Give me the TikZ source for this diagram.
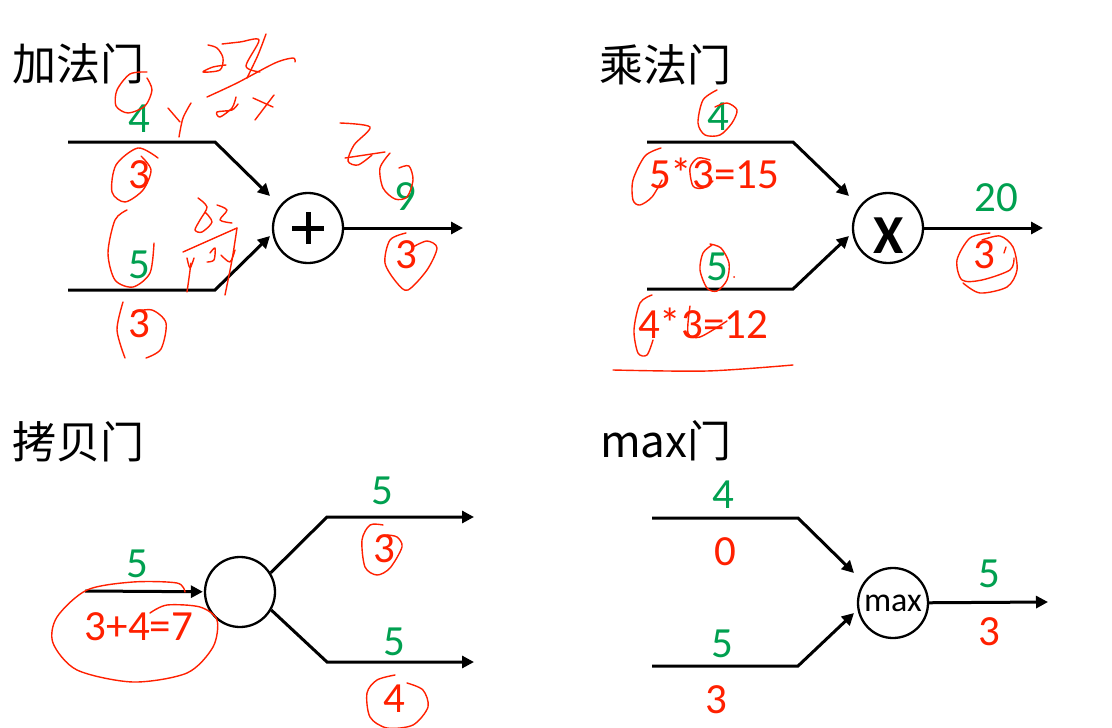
\documentclass[tikz,border=0pt]{standalone}
\usepackage{fontspec}
\setmainfont{Carlito}
\newfontfamily\cjk{Noto Sans CJK SC}
\usetikzlibrary{arrows.meta}
\definecolor{grn}{HTML}{00A050}
\definecolor{rd}{HTML}{FF2000}
\tikzset{
  wire/.style={line width=3pt, line join=miter, -{Triangle[length=12pt,width=12pt]}},
  gate/.style={circle, draw, line width=2.3pt, minimum size=70pt, inner sep=0pt},
  title/.style={anchor=base west, inner sep=0pt, font=\cjk\fontsize{44}{44}\selectfont},
  gval/.style={anchor=base, inner sep=0pt, text=grn, font=\fontsize{43}{43}\selectfont},
  rval/.style={anchor=base, inner sep=0pt, text=rd, font=\fontsize{43}{43}\selectfont},
  hand/.style={draw=rd, line width=1.4pt, line cap=round, line join=round},
}
\begin{document}
\begin{tikzpicture}[x=1pt,y=-1pt]
\useasboundingbox[fill=white] (0,0) rectangle (1112,728);

% ---------- titles ----------
\node[title] (t1) at (12,80) {加法门};
\node[title] (t2) at (599,81) {乘法门};
\node[title] (t3) at (12,458) {拷贝门};
\node[title] (t4) at (600,457) {max门};

% ---------- addition gate ----------
\node[gate] (ga) at (308,228) {};
\draw[line width=5pt] ([xshift=-16pt]ga.center) -- ([xshift=16pt]ga.center);
\draw[line width=5pt] ([yshift=-16pt]ga.center) -- ([yshift=16pt]ga.center);
\coordinate (a1s) at (68,142); \coordinate (a1b) at (215,142); \coordinate (a1e) at (270,196);
\coordinate (a2s) at (68,290); \coordinate (a2b) at (215,290); \coordinate (a2e) at (270,236);
\coordinate (aout) at (463,228);
\draw[wire] (a1s) -- (a1b) -- (a1e);
\draw[wire] (a2s) -- (a2b) -- (a2e);
\draw[wire] (ga) -- (aout);
\node[gval] (la1) at (139,132) {4};
\node[rval] (la2) at (139,188) {3};
\node[gval] (la3) at (139,278) {5};
\node[rval] (la4) at (139,337) {3};
\node[gval] (la5) at (405,210) {9};
\node[rval] (la6) at (406,268) {3};

% ---------- multiplication gate ----------
\node[gate] (gm) at (888,228) {};
\node[anchor=base, inner sep=0pt, font=\bfseries\fontsize{55}{55}\selectfont] (gmx) at (889,253) {X};
\coordinate (m1s) at (647,142); \coordinate (m1b) at (793,142); \coordinate (m1e) at (849,196);
\coordinate (m2s) at (647,289); \coordinate (m2b) at (793,289); \coordinate (m2e) at (849,236);
\coordinate (mout) at (1043,228);
\draw[wire] (m1s) -- (m1b) -- (m1e);
\draw[wire] (m2s) -- (m2b) -- (m2e);
\draw[wire] (gm) -- (mout);
\node[gval] (lm1) at (718,130) {4};
\node[rval] (lm2) at (714,188) {5*3=15};
\node[gval] (lm3) at (717,280) {5};
\node[rval] (lm4) at (703,338) {4*3=12};
\node[gval] (lm5) at (996,211) {20};
\node[rval] (lm6) at (984,268) {3};

% ---------- copy gate ----------
\node[gate] (gc) at (240,592) {};
\coordinate (cin) at (85,591);
\coordinate (c1b) at (327,517); \coordinate (c1e) at (474,517);
\coordinate (c2b) at (327,662); \coordinate (c2e) at (474,662);
\draw[wire, shorten >=1pt] (cin) -- (gc);
\draw[wire] (gc.32) -- (c1b) -- (c1e);
\draw[wire] (gc.-30) -- (c2b) -- (c2e);
\node[gval] (lc1) at (137,577) {5};
\node[rval] (lc2) at (139,640) {3+4=7};
\node[gval] (lc3) at (382,504) {5};
\node[rval] (lc4) at (384,562) {3};
\node[gval] (lc5) at (394,655) {5};
\node[rval] (lc6) at (394,712) {4};

% ---------- max gate ----------
\node[gate, font=\fontsize{34}{34}\selectfont] (gx) at (893,603) {max};
\coordinate (x1s) at (652,518); \coordinate (x1b) at (798,518); \coordinate (x1e) at (854,573);
\coordinate (x2s) at (652,666); \coordinate (x2b) at (798,666); \coordinate (x2e) at (854,613);
\coordinate (xout) at (1048,602);
\draw[wire] (x1s) -- (x1b) -- (x1e);
\draw[wire] (x2s) -- (x2b) -- (x2e);
\draw[wire] (gx) -- (xout);
\node[gval] (lx1) at (723,508) {4};
\node[rval] (lx2) at (725,565) {0};
\node[gval] (lx3) at (722,657) {5};
\node[rval] (lx4) at (716,713) {3};
\node[gval] (lx5) at (989,587) {5};
\node[rval] (lx6) at (989,645) {3};

% ---------- handwritten annotations ----------
% addition gate
\draw[hand] plot[smooth] coordinates {(147,72) (130,74) (117,90) (116,106) (128,113) (145,106) (152,90) (147,78)};
\draw[hand] (168,108) -- (180,122);
\draw[hand] plot[smooth] coordinates {(191,103) (183,118) (179,137)};
\draw[hand] plot[smooth] coordinates {(208,45) (217,48) (223,58) (220,70) (203,72) (213,67) (226,65)};
\draw[hand] plot[smooth] coordinates {(222,44) (240,42) (259,40) (246,66) (260,72)};
\draw[hand] plot[smooth] coordinates {(266,34) (258,55) (247,78)};
\draw[hand] plot[smooth] coordinates {(207,97) (237,83) (275,63) (293,58) (295,62)};
\draw[hand] plot[smooth] coordinates {(236,97) (232,108) (220,117) (217,112) (232,110) (238,104)};
\draw[hand] (253,98) -- (273,107);
\draw[hand] (274,95) -- (255,120);
\draw[hand] plot[smooth] coordinates {(158,158) (138,148) (116,165) (112,192) (125,202) (143,190) (151,170) (141,156)};
\draw[hand] plot[smooth] coordinates {(127,210) (115,220) (108,253) (115,280) (133,287) (150,273) (154,243)};
\draw[hand] plot[smooth] coordinates {(198,198) (207,207) (200,220) (195,230) (202,232) (212,222) (205,212)};
\draw[hand] plot[smooth] coordinates {(217,205) (227,210) (220,220) (232,223)};
\draw[hand] (183,252) -- (237,228);
\draw[hand] plot[smooth] coordinates {(187,258) (190,268) (194,258)};
\draw[hand] plot[smooth] coordinates {(191,263) (189,278) (187,292)};
\draw[hand] plot[smooth] coordinates {(210,253) (215,248) (214,260) (207,262)};
\draw[hand] plot[smooth] coordinates {(221,255) (230,262) (235,250)};
\draw[hand] plot[smooth] coordinates {(237,228) (232,260) (225,295)};
\draw[hand] plot[smooth] coordinates {(123,302) (117,330) (125,358)};
\draw[hand] plot[smooth] coordinates {(133,312) (152,310) (166,323) (161,349) (146,358)};
\draw[hand] plot[smooth] coordinates {(340,123) (370,127) (354,145) (348,161) (358,165) (372,155)};
\draw[hand] plot[smooth] coordinates {(345,158) (365,155) (385,152)};
\draw[hand] plot[smooth] coordinates {(390,153) (380,168) (383,188) (395,199) (407,197) (413,180) (409,166) (399,168)};
\draw[hand] plot[smooth] coordinates {(406,233) (390,240) (385,263) (397,283) (408,290) (427,270) (437,248) (427,241) (413,247)};
% multiplication gate
\draw[hand] plot[smooth] coordinates {(717,90) (703,100) (698,123) (705,135) (720,135) (732,123) (737,110) (727,103) (715,107)};
\draw[hand] plot[smooth] coordinates {(661,148) (645,156) (633,180) (633,200) (640,205) (652,197) (662,180)};
\draw[hand] plot[smooth] coordinates {(710,160) (698,158) (690,168) (693,186) (703,188) (713,181)};
\draw[hand] plot[smooth] coordinates {(712,245) (703,253) (700,270) (707,288) (717,291) (727,280) (729,263) (721,248) (710,244)};
\fill[rd] (734,277) circle (1pt);
\draw[hand] plot[smooth] coordinates {(652,295) (640,303) (634,330) (638,353) (647,355) (653,340)};
\draw[hand] plot[smooth] coordinates {(690,306) (688,333) (700,337) (727,321)};
\draw[hand] plot[smooth] coordinates {(613,370) (707,371) (793,365)};
\draw[hand] plot[smooth] coordinates {(990,233) (970,238) (957,260) (962,280) (982,280) (1010,270) (1014,258)};
\draw[hand] plot[smooth] coordinates {(963,283) (980,293) (1007,287) (1017,270) (1013,247) (1000,236) (982,240)};
\draw[hand] (1006,247) -- (1004,253);
% copy gate
\draw[hand] plot[smooth] coordinates {(185,592) (177,583) (133,582) (87,590) (57,617) (53,643) (77,670) (133,682) (187,673) (213,647) (217,620) (200,607) (167,605) (150,613)};
\draw[hand] plot[smooth] coordinates {(383,525) (370,525) (362,540) (365,567) (377,575) (390,568) (402,547) (397,537) (387,535)};
\draw[hand] plot[smooth] coordinates {(395,675) (377,680) (367,693) (370,717) (387,728) (413,725) (428,707) (423,690) (407,683)};
\end{tikzpicture}
\end{document}
